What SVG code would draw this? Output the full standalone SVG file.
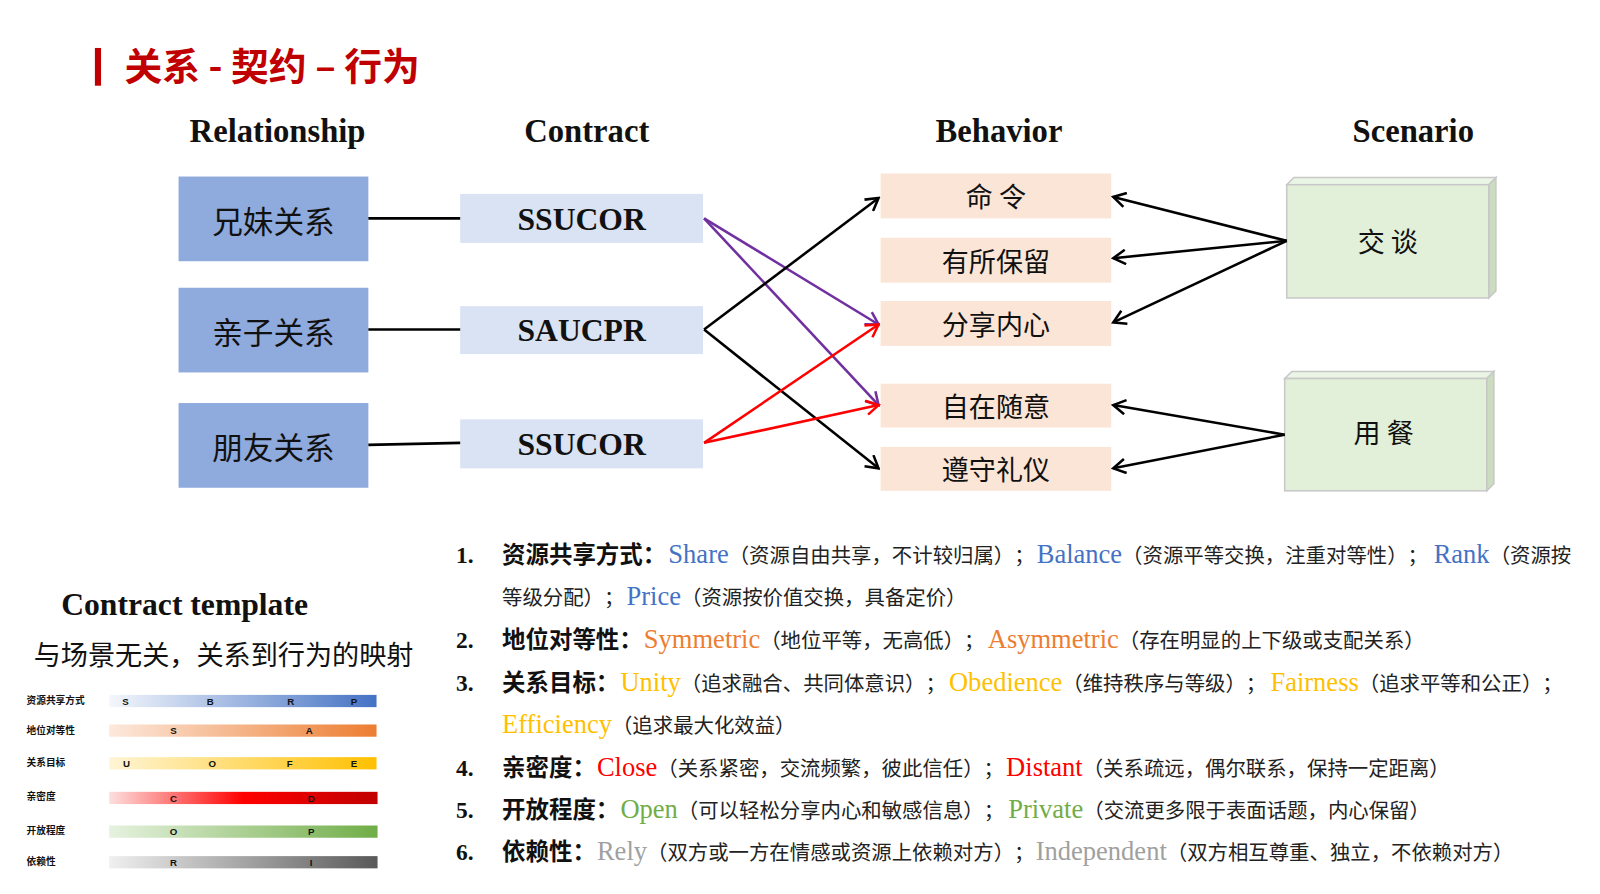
<svg xmlns="http://www.w3.org/2000/svg" width="1600" height="894" viewBox="0 0 1600 894">
<style>
.cjk{font-family:"Noto Sans CJK SC","Noto Sans",sans-serif;}
.serif{font-family:"Liberation Serif","DejaVu Serif",serif;}
.hdr{font-family:"Liberation Serif",serif;font-weight:700;font-size:32px;fill:#111;text-anchor:middle;}
.rel rect{fill:#8FAADC;}
.rel text{font-family:"Noto Sans CJK SC",sans-serif;font-size:30px;fill:#111;text-anchor:middle;dominant-baseline:central;}
.con rect{fill:#DAE3F3;}
.con text{font-family:"Liberation Serif",serif;font-weight:700;font-size:31px;fill:#111;text-anchor:middle;dominant-baseline:central;}
.beh rect{fill:#FBE5D6;}
.beh text{font-family:"Noto Sans CJK SC",sans-serif;font-size:26.5px;fill:#111;text-anchor:middle;dominant-baseline:central;}
.scn .front{fill:#E2F0D9;stroke:#C8C8C8;stroke-width:1.5;}
.scn .top{fill:#EBF5E5;stroke:#C8C8C8;stroke-width:1.5;}
.scn .side{fill:#CBDCC0;stroke:#C8C8C8;stroke-width:1.5;}
.scn text{font-family:"Noto Sans CJK SC",sans-serif;font-size:26.5px;fill:#111;text-anchor:middle;dominant-baseline:central;}
.ln{fill:none;stroke-width:2.5;}
.k{stroke:#000;}
.pu{stroke:#7030A0;}
.rd{stroke:#FF0000;}
.bl{font-family:"Noto Sans CJK SC",sans-serif;font-size:9.5px;font-weight:700;fill:#111;}
.bx{font-family:"Liberation Sans",sans-serif;font-size:9.5px;font-weight:700;fill:#111;text-anchor:middle;}
.row{text-spacing-trim:space-all;}
.num{font-family:"Liberation Serif",serif;font-size:23px;font-weight:700;fill:#111;}
.lab{font-family:"Noto Sans CJK SC",sans-serif;font-size:23px;font-weight:700;fill:#111;}
.en{font-family:"Liberation Serif",serif;font-size:26px;}
.par{font-family:"Noto Sans CJK SC",sans-serif;font-size:20px;fill:#222;}
.blue{fill:#4472C4;}
.org{fill:#ED7D31;}
.yel{fill:#FFC000;}
.red{fill:#FF0000;}
.grn{fill:#70AD47;}
.gry{fill:#A0A0A0;}
</style>
<defs>
<marker id="ak" viewBox="0 0 16 16" markerWidth="16" markerHeight="16" refX="14" refY="8" orient="auto" markerUnits="userSpaceOnUse"><path d="M2,1 L14,8 L2,15" fill="none" stroke="#000" stroke-width="2.5"/></marker>
<marker id="ap" viewBox="0 0 16 16" markerWidth="16" markerHeight="16" refX="14" refY="8" orient="auto" markerUnits="userSpaceOnUse"><path d="M2,1 L14,8 L2,15" fill="none" stroke="#7030A0" stroke-width="2.5"/></marker>
<marker id="ar" viewBox="0 0 16 16" markerWidth="16" markerHeight="16" refX="14" refY="8" orient="auto" markerUnits="userSpaceOnUse"><path d="M2,1 L14,8 L2,15" fill="none" stroke="#FF0000" stroke-width="2.5"/></marker>
<linearGradient id="g1" x1="0" x2="1" y1="0" y2="0"><stop offset="0" stop-color="#F4F7FC"/><stop offset="1" stop-color="#4472C4"/></linearGradient>
<linearGradient id="g2" x1="0" x2="1" y1="0" y2="0"><stop offset="0" stop-color="#FCE9DD"/><stop offset="1" stop-color="#ED7D31"/></linearGradient>
<linearGradient id="g3" x1="0" x2="1" y1="0" y2="0"><stop offset="0" stop-color="#FFF5D6"/><stop offset="1" stop-color="#FFC000"/></linearGradient>
<linearGradient id="g4" x1="0" x2="1" y1="0" y2="0"><stop offset="0" stop-color="#FCE0DE"/><stop offset="0.5" stop-color="#FF0000"/><stop offset="1" stop-color="#C00000"/></linearGradient>
<linearGradient id="g5" x1="0" x2="1" y1="0" y2="0"><stop offset="0" stop-color="#E6F2DF"/><stop offset="1" stop-color="#70AD47"/></linearGradient>
<linearGradient id="g6" x1="0" x2="1" y1="0" y2="0"><stop offset="0" stop-color="#F0F0F0"/><stop offset="1" stop-color="#595959"/></linearGradient>
</defs>
<rect x="0" y="0" width="1600" height="894" fill="#FFFFFF"/>
<g id="diagram" transform="scale(1.0204)">

<g id="title">
<rect x="93" y="47" width="6" height="37" fill="#C00000"/>
<text x="122" y="78" class="cjk" font-size="37" font-weight="700" fill="#C00000">关系 - 契约 – 行为</text>
</g>

<g id="headers">
<text class="hdr" x="272" y="139">Relationship</text>
<text class="hdr" x="575" y="139">Contract</text>
<text class="hdr" x="979" y="139">Behavior</text>
<text class="hdr" x="1385" y="139">Scenario</text>
</g>

<g id="rel1" class="rel"><rect x="175" y="173" width="186" height="83"/><text x="268" y="215">兄妹关系</text></g>
<g id="rel2" class="rel"><rect x="175" y="282" width="186" height="83"/><text x="268" y="324">亲子关系</text></g>
<g id="rel3" class="rel"><rect x="175" y="395" width="186" height="83"/><text x="268" y="437">朋友关系</text></g>

<g id="con1" class="con"><rect x="451" y="190" width="238" height="48"/><text x="570" y="215">SSUCOR</text></g>
<g id="con2" class="con"><rect x="451" y="300" width="238" height="47"/><text x="570" y="324">SAUCPR</text></g>
<g id="con3" class="con"><rect x="451" y="411" width="238" height="48"/><text x="570" y="436">SSUCOR</text></g>

<g id="beh1" class="beh"><rect x="863" y="170" width="226" height="44"/><text x="976" y="192">命 令</text></g>
<g id="beh2" class="beh"><rect x="863" y="233" width="226" height="44"/><text x="976" y="255">有所保留</text></g>
<g id="beh3" class="beh"><rect x="863" y="295" width="226" height="44"/><text x="976" y="317">分享内心</text></g>
<g id="beh4" class="beh"><rect x="863" y="376" width="226" height="43"/><text x="976" y="397">自在随意</text></g>
<g id="beh5" class="beh"><rect x="863" y="438" width="226" height="43"/><text x="976" y="459">遵守礼仪</text></g>

<g id="scn1" class="scn">
<polygon class="top" points="1261,181 1268,174 1466,174 1459,181"/>
<polygon class="side" points="1459,181 1466,174 1466,285 1459,292"/>
<rect class="front" x="1261" y="181" width="198" height="111"/>
<text x="1360" y="236">交 谈</text>
</g>
<g id="scn2" class="scn">
<polygon class="top" points="1259,371 1266,364 1464,364 1457,371"/>
<polygon class="side" points="1457,371 1464,364 1464,474 1457,481"/>
<rect class="front" x="1259" y="371" width="198" height="110"/>
<text x="1356" y="423">用 餐</text>
</g>

<g id="connectors">
<line class="ln k" x1="361" y1="214" x2="451" y2="214"/>
<line class="ln k" x1="361" y1="323" x2="451" y2="323"/>
<line class="ln k" x1="361" y1="436" x2="451" y2="434"/>
<line class="ln pu" x1="690" y1="214" x2="861" y2="318" marker-end="url(#ap)"/>
<line class="ln pu" x1="690" y1="214" x2="861" y2="397" marker-end="url(#ap)"/>
<line class="ln k" x1="690" y1="323" x2="861" y2="194" marker-end="url(#ak)"/>
<line class="ln k" x1="690" y1="323" x2="861" y2="459" marker-end="url(#ak)"/>
<line class="ln rd" x1="690" y1="434" x2="861" y2="318" marker-end="url(#ar)"/>
<line class="ln rd" x1="690" y1="434" x2="861" y2="397" marker-end="url(#ar)"/>
<line class="ln k" x1="1261" y1="236" x2="1091" y2="193" marker-end="url(#ak)"/>
<line class="ln k" x1="1261" y1="236" x2="1091" y2="253" marker-end="url(#ak)"/>
<line class="ln k" x1="1261" y1="236" x2="1091" y2="316" marker-end="url(#ak)"/>
<line class="ln k" x1="1259" y1="426" x2="1091" y2="397" marker-end="url(#ak)"/>
<line class="ln k" x1="1259" y1="426" x2="1091" y2="459" marker-end="url(#ak)"/>
</g>

<g id="template">
<text x="60" y="603" class="serif" font-size="31" font-weight="700" fill="#111">Contract template</text>
<text x="33" y="652" class="cjk" font-size="26.6" fill="#111">与场景无关，关系到行为的映射</text>
<text class="bl" x="26" y="690">资源共享方式</text>
<rect x="107" y="681" width="262" height="12" fill="url(#g1)"/>
<text class="bx" x="123" y="690.5">S</text><text class="bx" x="206" y="690.5">B</text><text class="bx" x="285" y="690.5">R</text><text class="bx" x="347" y="690.5">P</text>
<text class="bl" x="26" y="719">地位对等性</text>
<rect x="107" y="710" width="262" height="12" fill="url(#g2)"/>
<text class="bx" x="170" y="719.5">S</text><text class="bx" x="303" y="719.5">A</text>
<text class="bl" x="26" y="751">关系目标</text>
<rect x="107" y="742" width="262" height="12" fill="url(#g3)"/>
<text class="bx" x="124" y="751.5">U</text><text class="bx" x="208" y="751.5">O</text><text class="bx" x="284" y="751.5">F</text><text class="bx" x="347" y="751.5">E</text>
<text class="bl" x="26" y="784">亲密度</text>
<rect x="107" y="776" width="263" height="12" fill="url(#g4)"/>
<text class="bx" x="170" y="785.5">C</text><text class="bx" x="305" y="785.5">D</text>
<text class="bl" x="26" y="817">开放程度</text>
<rect x="107" y="809" width="263" height="12" fill="url(#g5)"/>
<text class="bx" x="170" y="818.5">O</text><text class="bx" x="305" y="818.5">P</text>
<text class="bl" x="26" y="848">依赖性</text>
<rect x="107" y="839" width="263" height="12" fill="url(#g6)"/>
<text class="bx" x="170" y="848.5">R</text><text class="bx" x="305" y="848.5">I</text>
</g>

<g id="list">
<text class="row" y="552"><tspan class="num" x="447">1.</tspan><tspan class="lab" x="492">资源共享方式：</tspan><tspan class="en blue" x="655">Share</tspan><tspan class="par">（资源自由共享，不计较归属）；</tspan><tspan class="en blue" x="1016">Balance</tspan><tspan class="par">（资源平等交换，注重对等性）；</tspan><tspan class="en blue" x="1405">Rank</tspan><tspan class="par">（资源按</tspan></text>

<text class="row" y="593"><tspan class="par" x="492">等级分配）；</tspan><tspan class="en blue" x="614">Price</tspan><tspan class="par">（资源按价值交换，具备定价）</tspan></text>

<text class="row" y="635"><tspan class="num" x="447">2.</tspan><tspan class="lab" x="492">地位对等性：</tspan><tspan class="en org" x="631">Symmetric</tspan><tspan class="par">（地位平等，无高低）；</tspan><tspan class="en org" x="968">Asymmetric</tspan><tspan class="par">（存在明显的上下级或支配关系）</tspan></text>

<text class="row" y="677"><tspan class="num" x="447">3.</tspan><tspan class="lab" x="492">关系目标：</tspan><tspan class="en yel" x="608">Unity</tspan><tspan class="par">（追求融合、共同体意识）；</tspan><tspan class="en yel" x="930">Obedience</tspan><tspan class="par">（维持秩序与等级）；</tspan><tspan class="en yel" x="1245">Fairness</tspan><tspan class="par">（追求平等和公正）；</tspan></text>

<text class="row" y="718"><tspan class="en yel" x="492">Efficiency</tspan><tspan class="par">（追求最大化效益）</tspan></text>

<text class="row" y="760"><tspan class="num" x="447">4.</tspan><tspan class="lab" x="492">亲密度：</tspan><tspan class="en red" x="585">Close</tspan><tspan class="par">（关系紧密，交流频繁，彼此信任）；</tspan><tspan class="en red" x="986">Distant</tspan><tspan class="par">（关系疏远，偶尔联系，保持一定距离）</tspan></text>

<text class="row" y="802"><tspan class="num" x="447">5.</tspan><tspan class="lab" x="492">开放程度：</tspan><tspan class="en grn" x="608">Open</tspan><tspan class="par">（可以轻松分享内心和敏感信息）；</tspan><tspan class="en grn" x="988">Private</tspan><tspan class="par">（交流更多限于表面话题，内心保留）</tspan></text>

<text class="row" y="843"><tspan class="num" x="447">6.</tspan><tspan class="lab" x="492">依赖性：</tspan><tspan class="en gry" x="585">Rely</tspan><tspan class="par">（双方或一方在情感或资源上依赖对方）；</tspan><tspan class="en gry" x="1015">Independent</tspan><tspan class="par">（双方相互尊重、独立，不依赖对方）</tspan></text>
</g>
</g>
</svg>
